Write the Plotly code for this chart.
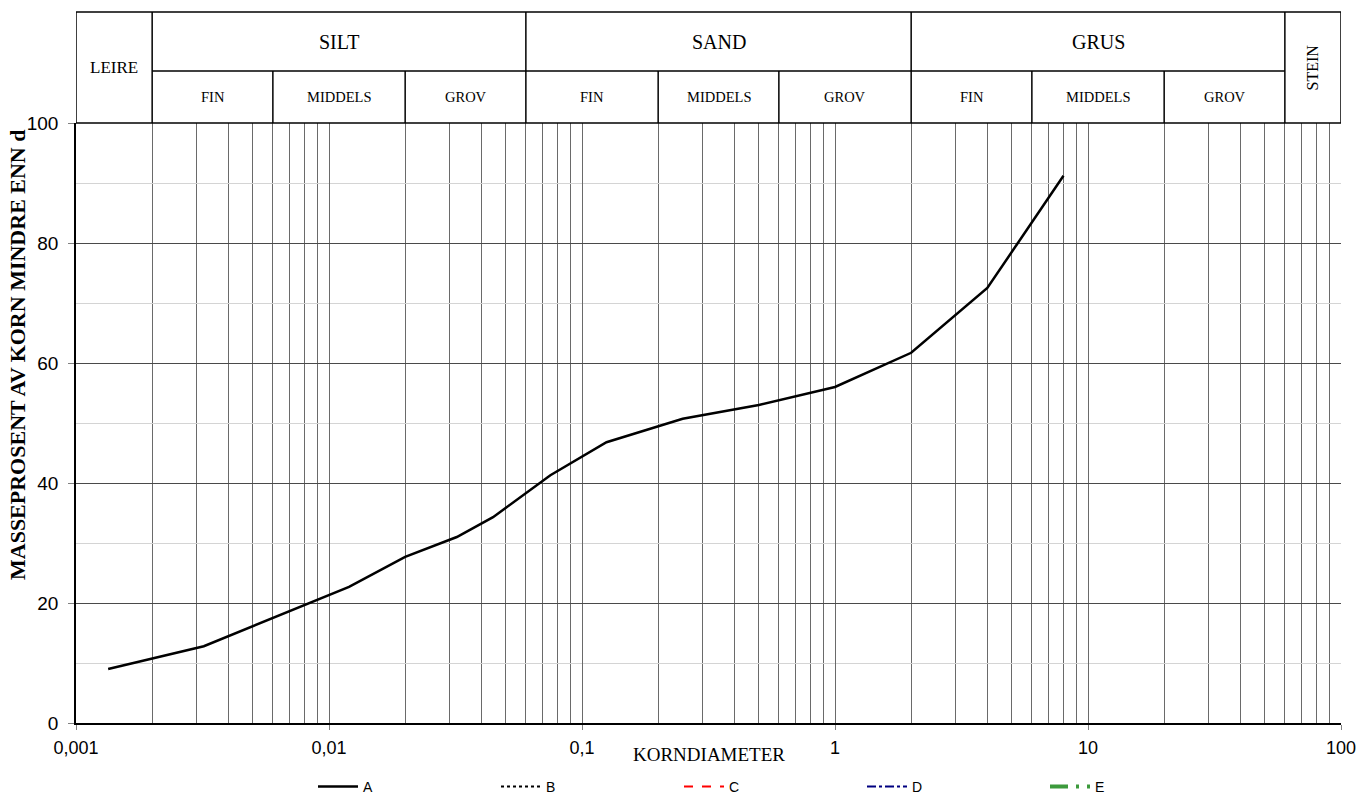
import numpy as np
import plotly.graph_objects as go

# ---- data -------------------------------------------------------------
diameter_mm = [0.00134, 0.0032, 0.012, 0.02, 0.032, 0.0445, 0.075, 0.125,
               0.25, 0.5, 1.0, 2.0, 4.0, 8.0]
passing_pct = [9.0, 12.8, 22.7, 27.7, 31.0, 34.3, 41.3, 46.8,
               50.7, 53.0, 56.0, 61.7, 72.5, 91.2]

legend_names = ["A", "B", "C", "D", "E"]

x_tick_vals = [0.001, 0.01, 0.1, 1, 10, 100]
x_tick_text = ["0,001", "0,01", "0,1", "1", "10", "100"]
y_tick_vals = [0, 20, 40, 60, 80, 100]

# grain-size classification (limits in mm)
main_classes = ["LEIRE", "SILT", "SAND", "GRUS", "STEIN"]
main_limits = [0.001, 0.002, 0.06, 2, 60, 100]
sub_names = ["FIN", "MIDDELS", "GROV"]
sub_limits = [0.002, 0.006, 0.02, 0.06, 0.2, 0.6, 2, 6, 20, 60]

# ---- figure ---------------------------------------------------------------
SERIF = "Liberation Serif, Times New Roman, serif"
SANS = "Liberation Sans, Arial, sans-serif"

fig = go.Figure()
fig.add_trace(go.Scatter(x=diameter_mm, y=passing_pct, mode="lines", name="A",
                         line=dict(color="#000000", width=2.5)))
styles = {
    "B": dict(color="#000000", width=2, dash="dot"),
    "C": dict(color="#ff0000", width=2, dash="dash"),
    "D": dict(color="#000080", width=2, dash="dashdot"),
    "E": dict(color="#3c9a3c", width=4, dash="18px,8px,3px,8px"),
}
for nm in legend_names[1:]:
    fig.add_trace(go.Scatter(x=[None], y=[None], mode="lines", name=nm,
                             line=styles[nm]))

minor_vals = [m * 10.0 ** e for e in range(-3, 2) for m in range(2, 10)]

fig.update_xaxes(
    type="log", range=[-3, 2], automargin=False,
    tickvals=x_tick_vals, ticktext=x_tick_text,
    tickfont=dict(family=SANS, size=18, color="#000"),
    ticks="outside", ticklen=5, tickcolor="#808080", ticklabelstandoff=3,
    showgrid=True, gridcolor="#6a6a6a", gridwidth=1,
    minor=dict(tickvals=minor_vals, showgrid=True, gridcolor="#6a6a6a",
               gridwidth=1, ticks=""),
    showline=True, linecolor="#000", linewidth=1.5,
    zeroline=False,
)
fig.update_yaxes(
    range=[0, 100], tickvals=y_tick_vals, automargin=False,
    tickfont=dict(family=SANS, size=19, color="#000"),
    ticks="outside", ticklen=6, tickcolor="#808080", ticklabelstandoff=6,
    showgrid=True, gridcolor="#4a4a4a", gridwidth=1,
    minor=dict(dtick=10, showgrid=True, gridcolor="#d4d4d4", gridwidth=1, ticks=""),
    showline=True, linecolor="#000", linewidth=1.5,
    zeroline=False,
)

# ---- header table ---------------------------------------------------------
H_TOP = (723 - 12) / 600.0
H_MID = (723 - 71) / 600.0
H_BOT = 1.0
lg = np.log10
line_k = dict(color="#000", width=1.5)

shapes = []
shapes.append(dict(type="line", xref="x", yref="paper", x0=main_limits[0],
                   x1=main_limits[-1], y0=H_TOP, y1=H_TOP, line=line_k))
shapes.append(dict(type="line", xref="x", yref="paper", x0=main_limits[0],
                   x1=main_limits[-1], y0=H_BOT, y1=H_BOT, line=line_k))
shapes.append(dict(type="line", xref="x", yref="paper", x0=main_limits[1],
                   x1=main_limits[-2], y0=H_MID, y1=H_MID, line=line_k))
for v in main_limits:
    shapes.append(dict(type="line", xref="x", yref="paper", x0=v, x1=v,
                       y0=H_BOT, y1=H_TOP, line=line_k))
for v in sub_limits:
    if v not in main_limits:
        shapes.append(dict(type="line", xref="x", yref="paper", x0=v, x1=v,
                           y0=H_BOT, y1=H_MID, line=line_k))

annotations = []
row1_y = (723 - 41.5) / 600.0
row2_y = (723 - 97) / 600.0
full_y = (723 - 67.5) / 600.0
common = dict(xref="x", yref="paper", showarrow=False, xanchor="center", yanchor="middle")
for i, name in enumerate(main_classes):
    xc = (lg(main_limits[i]) + lg(main_limits[i + 1])) / 2
    if name == "LEIRE":
        annotations.append(dict(x=xc, y=full_y, text=name,
                                font=dict(family=SERIF, size=17, color="#000"), **common))
    elif name == "STEIN":
        annotations.append(dict(x=xc, y=full_y, text=name, textangle=-90,
                                font=dict(family=SERIF, size=16, color="#000"), **common))
    else:
        annotations.append(dict(x=xc, y=row1_y, text=name,
                                font=dict(family=SERIF, size=20, color="#000"), **common))
for j in range(len(sub_limits) - 1):
    xc = (lg(sub_limits[j]) + lg(sub_limits[j + 1])) / 2
    annotations.append(dict(x=xc, y=row2_y, text=sub_names[j % 3],
                            font=dict(family=SERIF, size=14.5, color="#000"), **common))

annotations.append(dict(x=(709 - 76) / 1265.0, y=(723 - 755) / 600.0, xref="paper",
                        yref="paper", text="KORNDIAMETER", showarrow=False,
                        xanchor="center", yanchor="middle",
                        font=dict(family=SERIF, size=19, color="#000")))
annotations.append(dict(x=(17 - 76) / 1265.0, y=(723 - 355) / 600.0, xref="paper",
                        yref="paper", text="<b>MASSEPROSENT AV KORN MINDRE ENN d</b>",
                        showarrow=False, textangle=-90, xanchor="center", yanchor="middle",
                        font=dict(family=SERIF, size=22, color="#000")))

fig.update_layout(
    width=1360, height=794,
    margin=dict(l=76, r=19, t=123, b=71, autoexpand=False),
    paper_bgcolor="#fff", plot_bgcolor="#fff",
    shapes=shapes, annotations=annotations,
    showlegend=True,
    legend=dict(orientation="h", x=(313 - 76) / 1265.0, xanchor="left",
                y=(723 - 787) / 600.0, yanchor="middle",
                font=dict(family=SANS, size=14, color="#000"),
                entrywidth=128, itemwidth=40, bgcolor="rgba(0,0,0,0)"),
)

fig.write_html("out.html", config={"displayModeBar": False},
               post_script="document.body.style.margin='0px';"
                           "document.body.style.overflow='hidden';")
